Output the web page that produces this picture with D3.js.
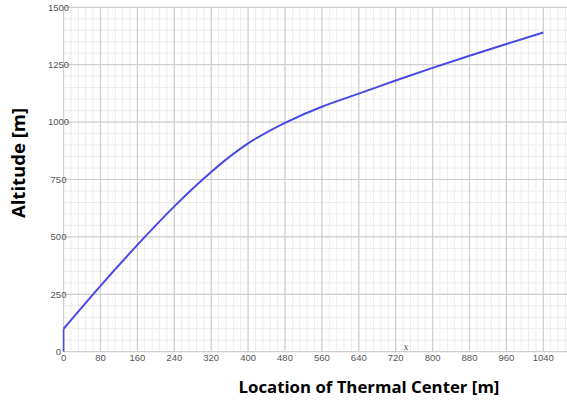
<!DOCTYPE html>
<html><head><meta charset="utf-8">
<script src="https://cdn.jsdelivr.net/npm/d3@7"></script>
<style>body{margin:0;background:#fff}svg{display:block}</style>
</head><body><svg id="c" width="567" height="403"></svg>
<script>
const xValues = [0, 0, 80, 160, 240, 320, 400, 480, 560, 640, 720, 800, 880, 960, 1040];
const altitudes = [0, 100, 287, 465, 633, 783, 907, 997, 1067, 1124, 1181, 1236, 1289, 1340, 1390];
const xTickLabels = [0, 80, 160, 240, 320, 400, 480, 560, 640, 720, 800, 880, 960, 1040];
const yTickLabels = [0, 250, 500, 750, 1000, 1250, 1500];
const xTitle = "Location of Thermal Center [m]";
const yTitle = "Altitude [m]";

const svg = d3.select("#c");
const x = d3.scaleLinear().domain([0, 1100]).range([63.6, 63.6 + 1100 * (479.7 / 1040)]);
const y = d3.scaleLinear().domain([0, 1500]).range([351.7, 7.3]);
const xMax = 567;

const g = svg.append("g");
// minor grid
const minorX = d3.range(0, 1100, 16);
const minorY = d3.range(0, 1501, 50);
g.selectAll(".mx").data(minorX).join("line")
  .attr("x1", d => x(d)).attr("x2", d => x(d)).attr("y1", y(0)).attr("y2", y(1500))
  .attr("stroke", "#ececec").attr("stroke-width", 1);
g.selectAll(".my").data(minorY).join("line")
  .attr("x1", x(0)).attr("x2", xMax).attr("y1", d => y(d)).attr("y2", d => y(d))
  .attr("stroke", "#ececec").attr("stroke-width", 1);
// major grid
const majorX = d3.range(0, 1100, 80);
g.selectAll(".Mx").data(majorX).join("line")
  .attr("x1", d => x(d)).attr("x2", d => x(d)).attr("y1", y(0)).attr("y2", y(1500))
  .attr("stroke", "#cfcfcf").attr("stroke-width", 1.2);
g.selectAll(".My").data(yTickLabels).join("line")
  .attr("x1", x(0)).attr("x2", xMax).attr("y1", d => y(d)).attr("y2", d => y(d))
  .attr("stroke", "#cfcfcf").attr("stroke-width", 1.2);

// tick labels
const tickFont = "'Liberation Sans Narrow', 'Liberation Sans', Arial, sans-serif";
svg.selectAll(".xt").data(xTickLabels).join("text")
  .attr("x", d => x(d)).attr("y", 360.5).attr("text-anchor", "middle")
  .attr("font-family", tickFont).attr("font-size", 9.5).attr("fill", "#555")
  .text(d => d);
svg.selectAll(".yt").data(yTickLabels).join("text")
  .attr("x", 58.5).attr("y", d => y(d) + 3.3).attr("text-anchor", "middle")
  .attr("font-family", tickFont).attr("font-size", 9.5).attr("fill", "#555")
  .text(d => d);

// stray x label
svg.append("text").attr("x", 406).attr("y", 350).attr("text-anchor", "middle")
  .attr("font-family", "'DejaVu Serif', serif").attr("font-style", "italic")
  .attr("font-size", 9).attr("fill", "#555").text("x");

// line
const pts = xValues.map((v, i) => [v, altitudes[i]]);
const lineLin = d3.line().x(d => x(d[0])).y(d => y(d[1]));
const lineCurve = d3.line().x(d => x(d[0])).y(d => y(d[1])).curve(d3.curveNatural);
svg.append("path").attr("d", lineLin(pts.slice(0, 2)))
  .attr("fill", "none").attr("stroke", "#4848e6").attr("stroke-width", 1.6);
svg.append("path").attr("d", lineCurve(pts.slice(1)))
  .attr("fill", "none").attr("stroke", "#4848e6").attr("stroke-width", 2);

// titles
const titleFont = "'Open Sans', 'Liberation Sans', sans-serif";
svg.append("text").attr("x", 369).attr("y", 393).attr("text-anchor", "middle")
  .attr("font-family", titleFont).attr("font-weight", "bold").attr("font-size", 16.8)
  .attr("fill", "#000").text(xTitle);
svg.append("text").attr("transform", "translate(25,163) rotate(-90)").attr("text-anchor", "middle")
  .attr("font-family", titleFont).attr("font-weight", "bold").attr("font-size", 18.5)
  .attr("fill", "#000").text(yTitle);
</script></body></html>
